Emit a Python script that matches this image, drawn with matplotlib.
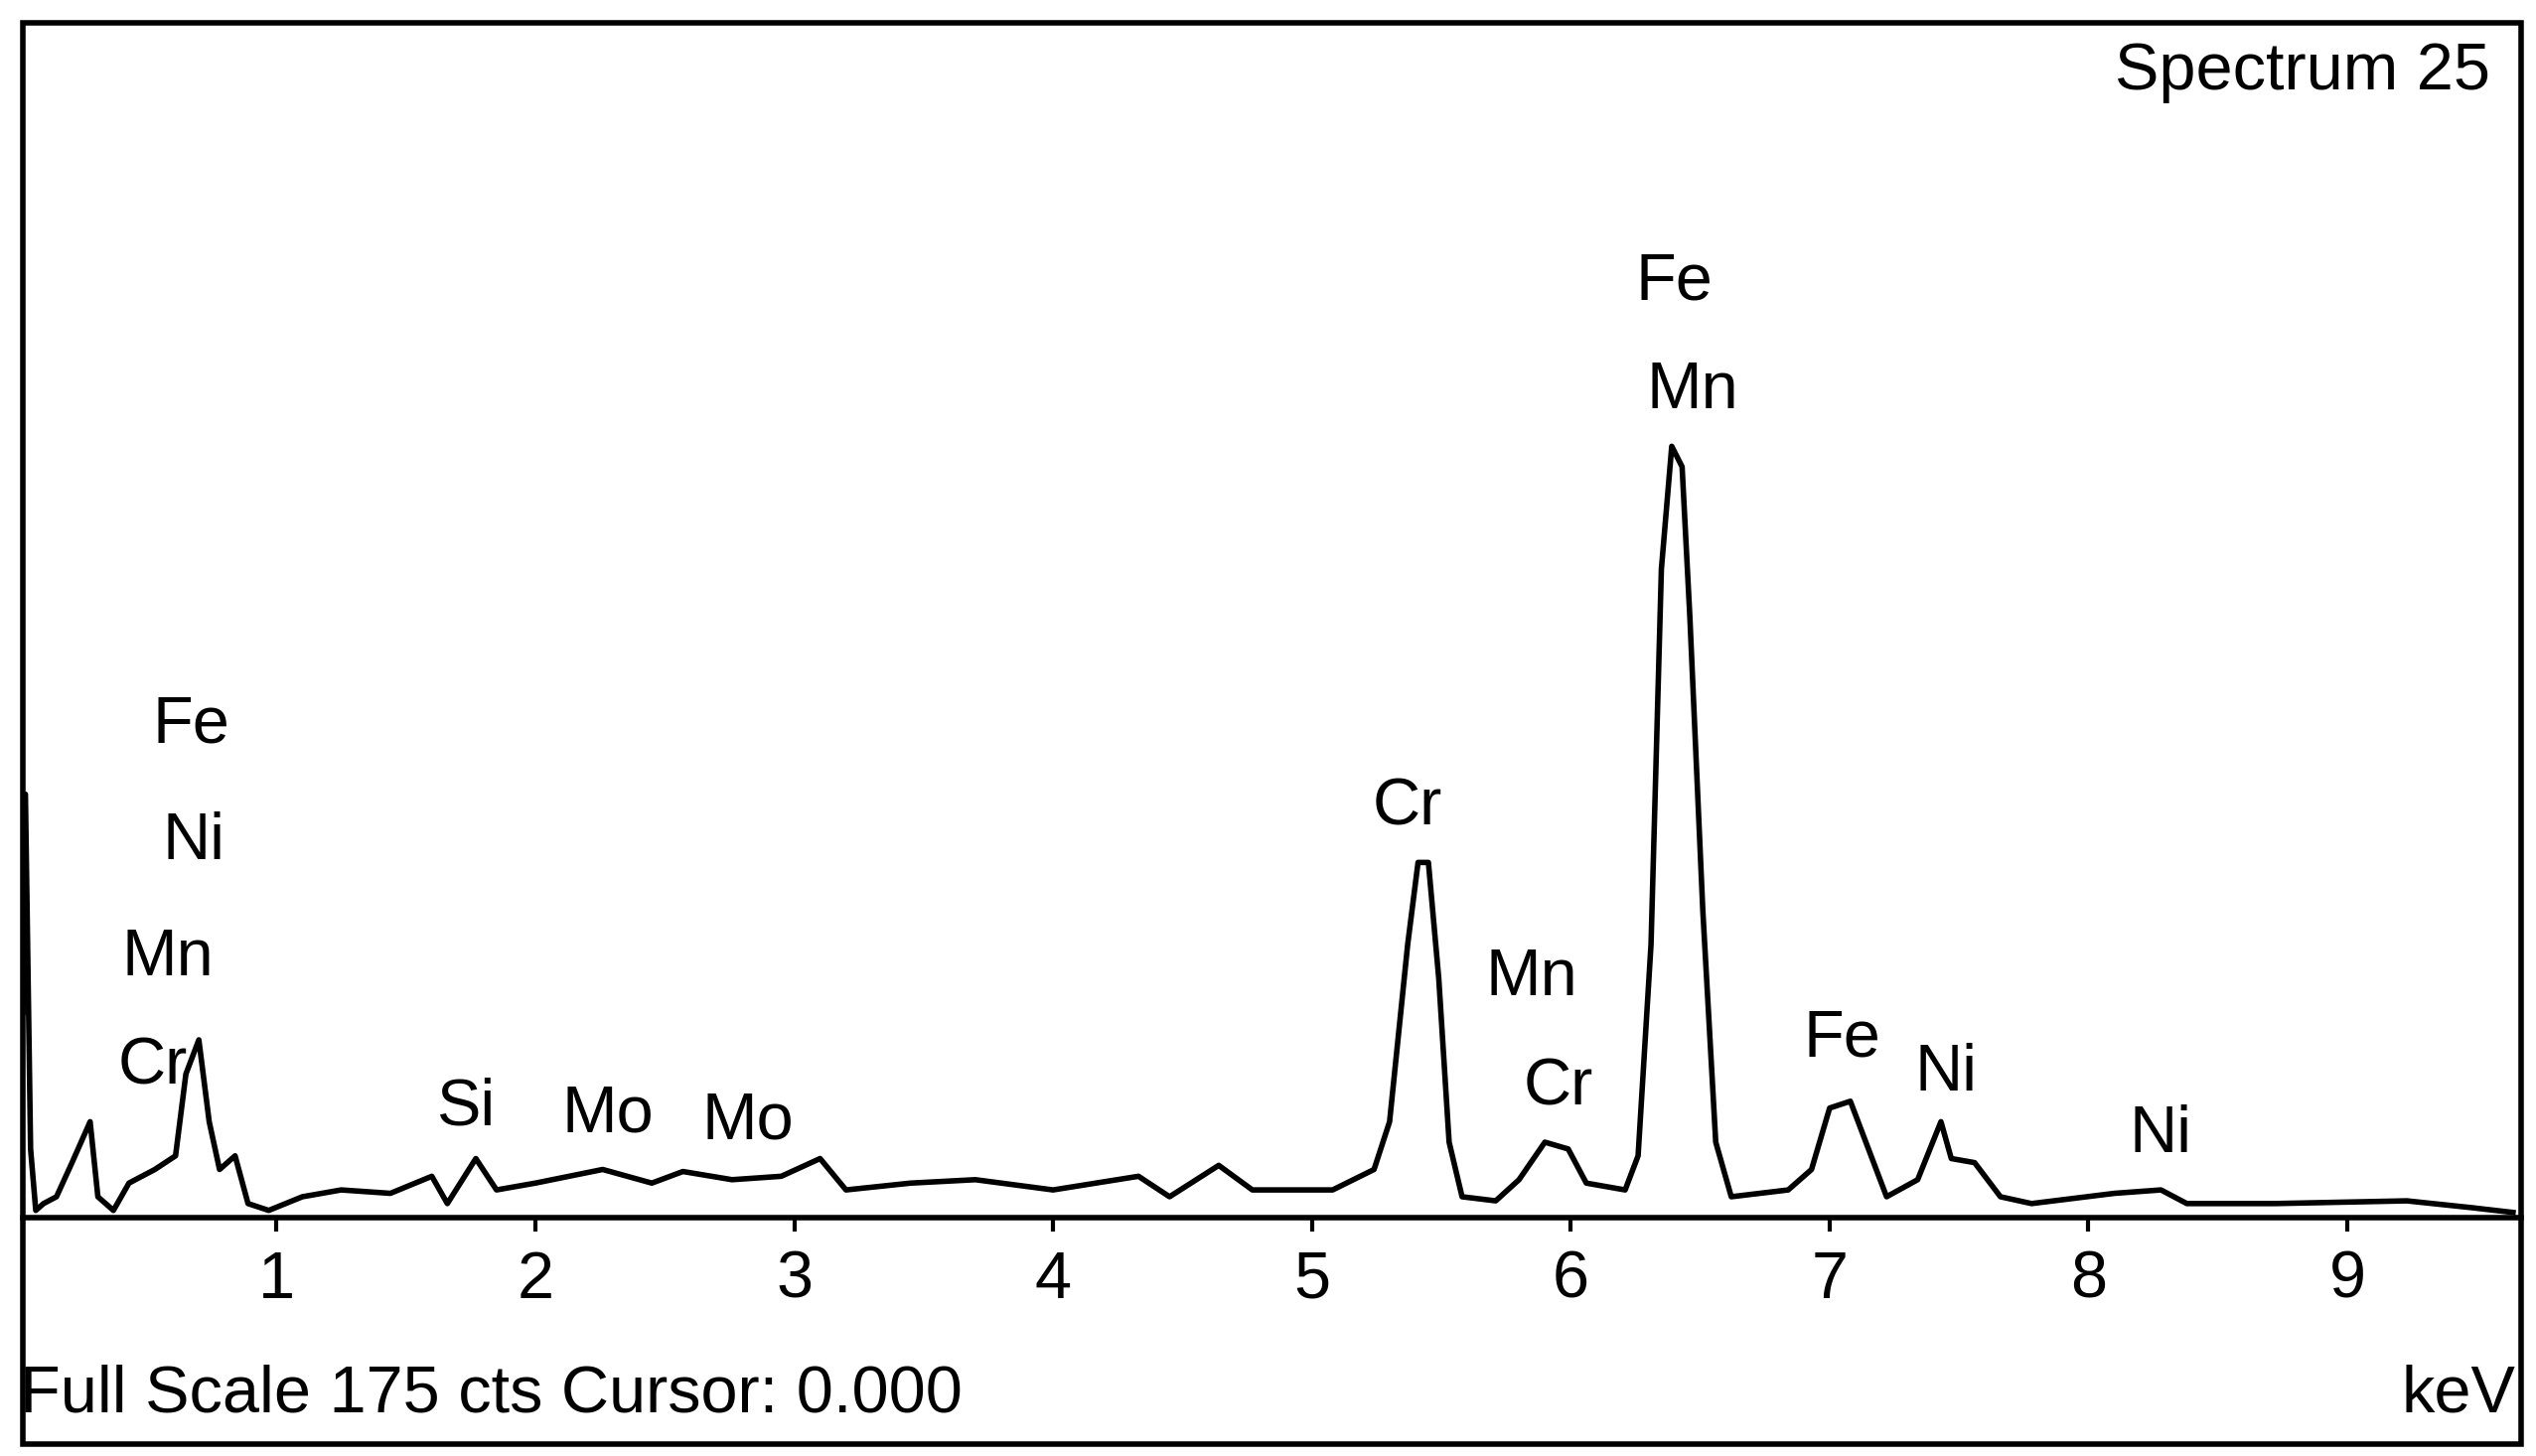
import matplotlib.pyplot as plt
from matplotlib.patches import Rectangle

plt.rcParams['font.family'] = ['Liberation Sans', 'DejaVu Sans']

# EDS spectrum (keV, counts)
energy = [0.02, 0.03, 0.05, 0.07, 0.10, 0.15, 0.21, 0.28, 0.31, 0.37, 0.43, 0.53, 0.61,
          0.65, 0.70, 0.74, 0.78, 0.84, 0.89, 0.97, 1.10, 1.25, 1.44, 1.60, 1.66, 1.77,
          1.85, 2.00, 2.26, 2.45, 2.57, 2.76, 2.95, 3.10, 3.20, 3.45, 3.70, 4.00, 4.33,
          4.45, 4.64, 4.77, 5.08, 5.24, 5.30, 5.37, 5.41, 5.45, 5.49, 5.53, 5.58, 5.71,
          5.80, 5.90, 5.99, 6.06, 6.21, 6.26, 6.31, 6.35, 6.39, 6.43, 6.46, 6.51, 6.56,
          6.62, 6.84, 6.93, 7.00, 7.08, 7.14, 7.22, 7.34, 7.43, 7.47, 7.56, 7.66, 7.78,
          8.10, 8.28, 8.38, 8.72, 9.23, 9.48, 9.64]
counts = [30, 62, 10, 1, 2, 3, 8, 14, 3, 1, 5, 7, 9,
          21, 26, 14, 7, 9, 2, 1, 3, 4, 3.5, 6, 2, 8.6,
          4, 5, 7, 5, 6.7, 5.5, 6, 8.6, 4, 5, 5.5, 4, 6,
          3, 7.6, 4, 4, 7, 14, 40, 52, 52, 35, 11, 3, 2.4,
          5.5, 11, 10, 5, 4, 9, 40, 95, 113, 110, 88, 45, 11,
          3, 4, 7, 16, 17, 11, 3, 5.5, 14, 8.6, 8, 3, 2,
          3.5, 4, 2, 2, 2.4, 1.4, 0.7]

# peak labels (text, keV, counts)
labels = ["Fe", "Ni", "Mn", "Cr", "Si", "Mo", "Mo", "Cr", "Mn", "Cr",
          "Fe", "Mn", "Fe", "Ni", "Ni"]
label_e = [0.67, 0.68, 0.58, 0.52, 1.73, 2.28, 2.82, 5.37, 5.85, 5.95,
           6.40, 6.47, 7.05, 7.45, 8.28]
label_c = [72, 55, 38, 22, 16, 15, 14, 60, 35, 19,
           137, 121, 26, 21, 12]

fig = plt.figure(figsize=(25.53, 14.66), dpi=100)
fig.patches.append(Rectangle((0.009, 0.008), 0.985, 0.976, transform=fig.transFigure,
                             fill=False, lw=4, ec='black'))
ax = fig.add_axes([0.009, 0.164, 0.985, 0.820])
ax.plot(energy, counts, color='black', lw=4)
ax.set_xlim(0.02, 9.67)
ax.set_ylim(0, 175)
for s in ['top', 'right', 'left']:
    ax.spines[s].set_visible(False)
ax.spines['bottom'].set_linewidth(4)
ax.set_yticks([])
ax.set_xticks(range(1, 10))
ax.tick_params(axis='x', length=10, width=3, labelsize=48, pad=14)

for t, e, c in zip(labels, label_e, label_c):
    ax.text(e, c, t, fontsize=48, ha='center', va='center')

fig.text(0.982, 0.95, "Spectrum 25", fontsize=48, ha='right', va='center')
fig.text(0.008, 0.042, "Full Scale 175 cts Cursor: 0.000", fontsize=48, ha='left', va='center')
fig.text(0.992, 0.042, "keV", fontsize=48, ha='right', va='center')

fig.savefig("out.png", dpi=100)
